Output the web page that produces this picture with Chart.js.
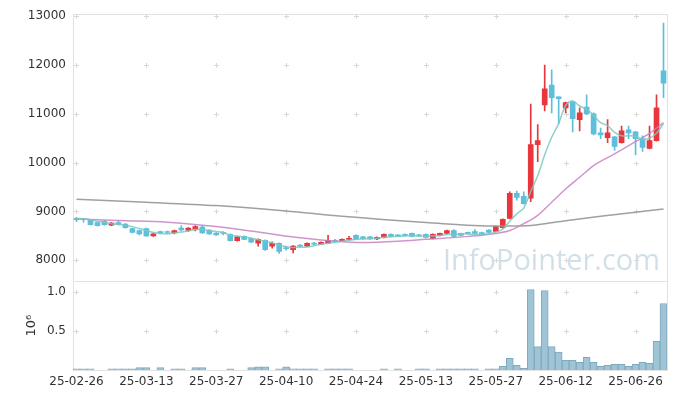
<!DOCTYPE html>
<html lang="en">
<head>
<meta charset="UTF-8">
<title>Price and volume</title>
<script src="https://cdn.jsdelivr.net/npm/chart.js"></script>
<style>
  html, body { margin: 0; padding: 0; background: #fff; }
  #wrap { width: 677px; height: 399px; }
</style>
</head>
<body>
<div id="wrap"><canvas id="chart"></canvas></div>
<script>
// trading days (YY-MM-DD)
const dates = ['25-02-26','25-02-27','25-02-28','25-03-04','25-03-05','25-03-06','25-03-07','25-03-10','25-03-11','25-03-12',
  '25-03-13','25-03-14','25-03-17','25-03-18','25-03-19','25-03-20','25-03-21','25-03-24','25-03-25','25-03-26',
  '25-03-27','25-03-28','25-03-31','25-04-01','25-04-02','25-04-03','25-04-04','25-04-07','25-04-08','25-04-09',
  '25-04-10','25-04-11','25-04-14','25-04-15','25-04-16','25-04-17','25-04-18','25-04-21','25-04-22','25-04-23',
  '25-04-24','25-04-25','25-04-28','25-04-29','25-04-30','25-05-02','25-05-07','25-05-08','25-05-09','25-05-12',
  '25-05-13','25-05-14','25-05-15','25-05-16','25-05-19','25-05-20','25-05-21','25-05-22','25-05-23','25-05-26',
  '25-05-27','25-05-28','25-05-29','25-05-30','25-06-02','25-06-04','25-06-05','25-06-09','25-06-10','25-06-11',
  '25-06-12','25-06-13','25-06-16','25-06-17','25-06-18','25-06-19','25-06-20','25-06-23','25-06-24','25-06-25',
  '25-06-26','25-06-27','25-06-30','25-07-01','25-07-02'];

const open = [8860,8850,8820,8770,8800,8720,8770,8740,8650,8610,
  8650,8500,8590,8580,8560,8660,8610,8630,8680,8620,
  8560,8560,8530,8400,8490,8450,8350,8410,8290,8350,
  8250,8220,8300,8290,8340,8330,8350,8410,8390,8430,
  8510,8480,8480,8440,8470,8530,8510,8530,8550,8520,
  8530,8450,8510,8550,8610,8550,8570,8590,8570,8620,
  8590,8670,8860,9370,9310,9270,10370,11180,11590,11350,
  11120,11240,10880,11140,11000,10610,10510,10530,10410,10670,
  10630,10490,10290,10450,11880];
const high = [8880,8860,8830,8780,8820,8780,8820,8750,8660,8620,
  8660,8550,8600,8600,8620,8710,8670,8710,8710,8630,
  8570,8590,8540,8490,8500,8460,8440,8420,8380,8360,
  8290,8300,8320,8360,8370,8380,8510,8430,8440,8490,
  8520,8490,8490,8480,8540,8540,8520,8540,8560,8530,
  8540,8540,8560,8620,8630,8560,8580,8630,8580,8630,
  8700,8850,9400,9420,9400,11200,10780,12000,11900,11350,
  11240,11260,11120,11390,11020,10710,10880,10540,10750,10750,
  10640,10550,10750,11390,12860];
const low = [8790,8780,8720,8700,8720,8710,8720,8660,8560,8520,
  8490,8490,8540,8550,8540,8600,8590,8600,8550,8530,
  8510,8520,8390,8390,8420,8360,8290,8200,8250,8140,
  8210,8150,8270,8280,8310,8320,8340,8380,8380,8420,
  8420,8430,8430,8420,8460,8480,8490,8500,8480,8490,
  8460,8440,8500,8540,8480,8500,8540,8540,8520,8560,
  8580,8660,8850,9230,9150,9200,10020,11060,11020,10800,
  11020,10630,10650,10980,10570,10490,10410,10250,10400,10490,
  10160,10230,10280,10440,11330];
const close = [8830,8830,8730,8710,8730,8760,8730,8670,8570,8540,
  8500,8540,8560,8570,8610,8620,8660,8690,8560,8540,
  8520,8550,8400,8480,8430,8370,8430,8220,8350,8180,
  8240,8290,8290,8350,8330,8370,8410,8390,8430,8450,
  8430,8440,8440,8470,8530,8490,8500,8510,8490,8500,
  8470,8530,8550,8610,8490,8510,8550,8550,8530,8570,
  8690,8840,9370,9290,9160,10370,10450,11510,11330,11310,
  11230,10900,11020,11000,10590,10570,10610,10330,10650,10610,
  10490,10310,10450,11120,11630];

// volume, millions of shares
const volume = [0.015,0.015,0.015,0,0,0.015,0.015,0.015,0.015,0.03,
  0.03,0,0.03,0,0.015,0.015,0,0.03,0.03,0,
  0,0,0.015,0,0,0.03,0.04,0.04,0,0.015,
  0.04,0.015,0.015,0.015,0.015,0,0.015,0.015,0.015,0.015,
  0,0,0,0,0.015,0,0.015,0,0,0.015,
  0.015,0,0.015,0.015,0.015,0.015,0.015,0.015,0,0.015,
  0.015,0.047,0.15,0.06,0.02,1.035,0.30,1.02,0.30,0.23,
  0.125,0.125,0.10,0.163,0.10,0.047,0.06,0.073,0.073,0.047,
  0.073,0.10,0.086,0.37,0.855];

// moving averages
const ma5 = [8860,8850,8830,8800,8780,8750,8740,8720,8690,8650,
  8610,8570,8550,8540,8560,8580,8600,8630,8630,8610,
  8590,8570,8510,8500,8480,8450,8420,8390,8360,8310,
  8280,8260,8270,8270,8300,8330,8350,8370,8390,8410,
  8430,8440,8440,8450,8470,8480,8490,8500,8500,8500,
  8490,8500,8510,8530,8530,8540,8540,8530,8540,8540,
  8580,8640,8800,8950,9070,9410,9730,10160,10520,10800,
  11170,11260,11160,11090,10970,10820,10760,10620,10550,10550,
  10540,10480,10500,10600,10800];
const ma20At = [0,6,13,20,26,32,37,41,46,50,56,60,62,64,66,68,70,72,74,77,80,82,84];
const ma20 = [8850,8815,8780,8690,8580,8460,8390,8365,8390,8430,8490,8550,8610,8750,8920,9190,9460,9700,9940,10180,10430,10600,10820];
const ma120At = [0,10,20,30,38,50,60,63,66,70,75,80,84];
const ma120 = [9250,9190,9120,9010,8900,8775,8700,8700,8730,8810,8900,8985,9050];

const xTickEvery = 10;
const priceTicks = [8000, 9000, 10000, 11000, 12000, 13000];
const volumeTicks = [0.5, 1.0];

const RED = '#e8363c';
const BLUE = '#5dbfdc';
const candleColors = close.map((c, i) => c >= open[i] ? RED : BLUE);

function sparse(at, vals) {
  const out = dates.map(() => null);
  at.forEach((idx, k) => { out[idx] = vals[k]; });
  return out;
}

const font = { family: 'DejaVu Sans', size: 12 };

// grid crosses, pane frames and watermark
const backdrop = {
  id: 'backdrop',
  beforeDatasetsDraw(chart) {
    const { ctx, scales: { x, y, yv } } = chart;
    ctx.save();

    ctx.font = '30px "Open Sans"';
    ctx.fillStyle = 'rgba(150,185,205,0.45)';
    ctx.textBaseline = 'alphabetic';
    ctx.fillText('InfoPointer.com', 443, 270, 217);

    ctx.strokeStyle = '#e2e2e2';
    ctx.lineWidth = 1;
    const l = Math.floor(x.left) + 0.5, r = Math.floor(x.right) + 0.5;
    ctx.strokeRect(l, Math.floor(y.top) + 0.5, r - l, Math.round(y.bottom - y.top));
    ctx.strokeRect(l, Math.floor(yv.top) + 0.5, r - l, Math.round(yv.bottom - yv.top));

    ctx.strokeStyle = '#d8d8d8';
    const ys = priceTicks.map(v => y.getPixelForValue(v))
      .concat(volumeTicks.map(v => yv.getPixelForValue(v)));
    for (let i = 0; i < dates.length; i += xTickEvery) {
      const px = Math.round(x.getPixelForValue(i)) + 0.5;
      ys.forEach(py => {
        const qy = Math.round(py) + 0.5;
        ctx.beginPath();
        ctx.moveTo(px - 2.5, qy); ctx.lineTo(px + 2.5, qy);
        ctx.moveTo(px, qy - 2.5); ctx.lineTo(px, qy + 2.5);
        ctx.stroke();
      });
    }
    ctx.restore();
  }
};

new Chart(document.getElementById('chart'), {
  type: 'bar',
  data: {
    labels: dates,
    datasets: [
      { type: 'line', label: 'MA5', data: ma5, yAxisID: 'y', order: 0,
        borderColor: 'rgba(125,200,190,0.85)', borderWidth: 1.5, pointRadius: 0, tension: 0.35 },
      { type: 'line', label: 'MA20', data: sparse(ma20At, ma20), yAxisID: 'y', order: 0, spanGaps: true,
        borderColor: 'rgba(200,130,195,0.85)', borderWidth: 1.5, pointRadius: 0, cubicInterpolationMode: 'monotone' },
      { type: 'line', label: 'MA120', data: sparse(ma120At, ma120), yAxisID: 'y', order: 0, spanGaps: true,
        borderColor: 'rgba(150,150,150,0.9)', borderWidth: 1.5, pointRadius: 0, cubicInterpolationMode: 'monotone' },
      { label: 'body', data: open.map((o, i) => [o, close[i]]), yAxisID: 'y', order: 1,
        backgroundColor: candleColors, barThickness: 5, grouped: false, minBarLength: 1 },
      { label: 'wick', data: low.map((lo, i) => [lo, high[i]]), yAxisID: 'y', order: 2,
        backgroundColor: candleColors, barThickness: 1, grouped: false },
      { label: 'volume', data: volume, yAxisID: 'yv', order: 3,
        backgroundColor: '#9fc4d5', borderColor: '#7eaac0', borderWidth: 1, barThickness: 7, grouped: false }
    ]
  },
  options: {
    responsive: true,
    maintainAspectRatio: false,
    animation: false,
    layout: { padding: { top: 13, right: 10, bottom: 0, left: 0 } },
    plugins: { legend: { display: false }, tooltip: { enabled: false } },
    scales: {
      x: {
        type: 'category',
        grid: { display: false, drawTicks: false },
        border: { display: false },
        ticks: {
          autoSkip: false, maxRotation: 0, padding: 5, color: '#333', font,
          callback: (v, i) => i % xTickEvery === 0 ? dates[i] : ''
        },
        afterFit(s) { s.height = 29; }
      },
      yv: {
        type: 'linear', position: 'left', stack: 'pane', stackWeight: 89,
        min: 0, max: 1.14,
        afterBuildTicks(s) { s.ticks = volumeTicks.map(v => ({ value: v })); },
        grid: { display: false, drawTicks: false },
        border: { display: false },
        ticks: { padding: 7, color: '#333', font, callback: v => Number(v).toFixed(1) },
        title: { display: true, text: '10⁶', color: '#333', font: { family: 'DejaVu Sans', size: 13 },
                 padding: { top: 24, bottom: 0 } },
        afterFit(s) { s.width = 73; }
      },
      y: {
        type: 'linear', position: 'left', stack: 'pane', stackWeight: 268,
        min: 7570, max: 13040,
        afterBuildTicks(s) { s.ticks = priceTicks.map(v => ({ value: v })); },
        grid: { display: false, drawTicks: false },
        border: { display: false },
        ticks: { padding: 7, color: '#333', font, callback: v => String(v) },
        afterFit(s) { s.width = 73; }
      }
    }
  },
  plugins: [backdrop]
});
</script>
</body>
</html>
